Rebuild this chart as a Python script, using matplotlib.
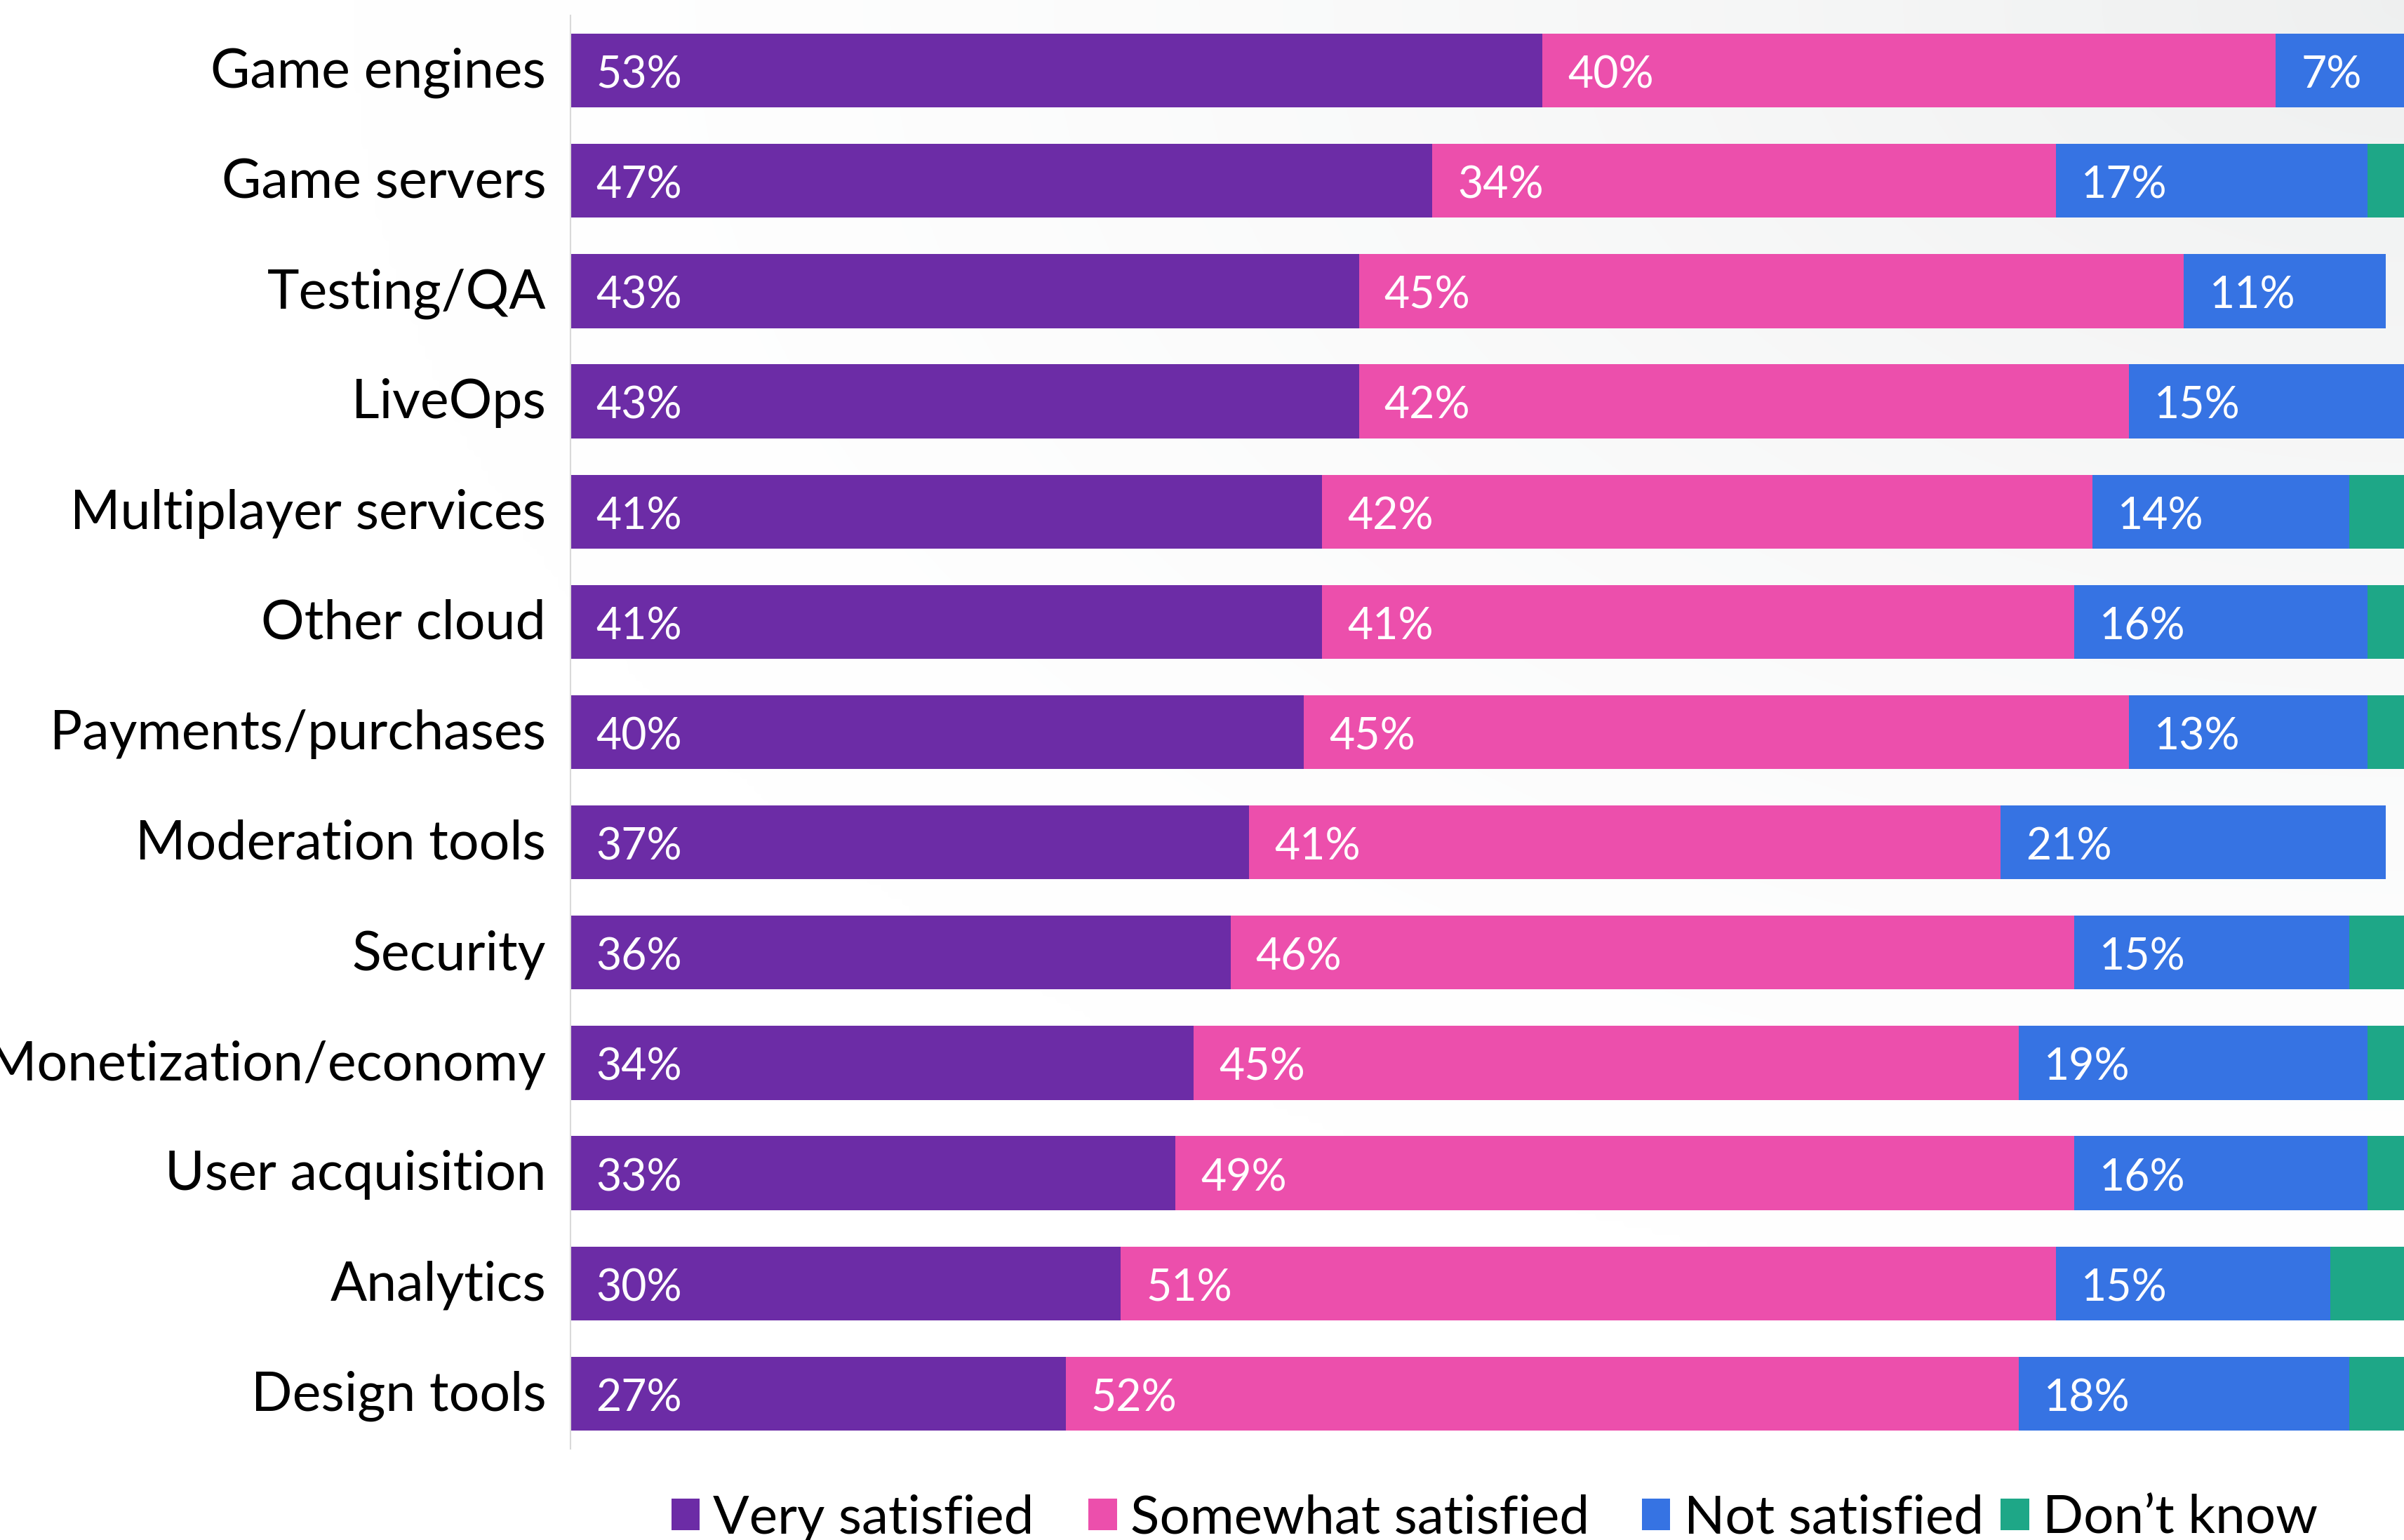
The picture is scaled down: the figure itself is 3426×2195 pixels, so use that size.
import matplotlib
matplotlib.use("Agg")
import matplotlib.pyplot as plt
from matplotlib.patches import Patch
from matplotlib.transforms import ScaledTranslation
import numpy as np

# Satisfaction with tools and services (percent of respondents)
categories = [
    "Game engines", "Game servers", "Testing/QA", "LiveOps",
    "Multiplayer services", "Other cloud", "Payments/purchases",
    "Moderation tools", "Security", "Monetization/economy",
    "User acquisition", "Analytics", "Design tools",
]
very_satisfied = [53, 47, 43, 43, 41, 41, 40, 37, 36, 34, 33, 30, 27]
somewhat_satisfied = [40, 34, 45, 42, 42, 41, 45, 41, 46, 45, 49, 51, 52]
not_satisfied = [7, 17, 11, 15, 14, 16, 13, 21, 15, 19, 16, 15, 18]
dont_know = [0, 2, 0, 0, 3, 2, 2, 0, 3, 2, 2, 4, 3]

series_names = ["Very satisfied", "Somewhat satisfied", "Not satisfied", "Don\u2019t know"]
series_colors = ["#6C2CA6", "#EC4FAC", "#3673E3", "#1EA787"]
labelled_series = [True, True, True, False]
legend_x = [0.2793, 0.4528, 0.6830, 0.8322]

plt.rcParams["font.family"] = ["Lato", "DejaVu Sans"]

W, H = 3426, 2195
fig = plt.figure(figsize=(W / 100, H / 100), dpi=100)
fig.patch.set_facecolor("white")

# soft grey wash in the top-right corner
bg = fig.add_axes([0, 0, 1, 1], zorder=-10)
gh, gw = 220, 343
yy, xx = np.mgrid[0:gh, 0:gw]
dist = np.hypot((gw - xx) / gw, yy / gh)
shade = np.clip(1 - dist / 0.85, 0, 1) ** 1.5
grey = np.array([0.935, 0.94, 0.94])
img = 1 - shade[..., None] * (1 - grey)
bg.imshow(img, aspect="auto", extent=(0, 1, 0, 1), interpolation="bicubic")
bg.set_axis_off()

left_px, right_px, top_px, bottom_px = 813, 3426, 22, 2065
ax = fig.add_axes([left_px / W, 1 - bottom_px / H,
                   (right_px - left_px) / W, (bottom_px - top_px) / H])
ax.set_facecolor("none")

y = np.arange(len(categories))
series = [very_satisfied, somewhat_satisfied, not_satisfied, dont_know]
left = np.zeros(len(categories))
for vals, color, show in zip(series, series_colors, labelled_series):
    vals = np.array(vals, dtype=float)
    ax.barh(y, vals, left=left, color=color, height=0.67, linewidth=0)
    if show:
        for yi, start, v in zip(y, left, vals):
            if v > 0:
                ax.annotate(f"{int(v)}%", xy=(start, yi), xytext=(26, -5),
                            textcoords="offset points", ha="left", va="center",
                            color="white", fontsize=45)
    left += vals

ax.set_xlim(0, 100)
ax.set_ylim(len(categories) - 0.5, -0.5)
ax.set_yticks(y, categories, fontsize=55.5, color="black")
ax.tick_params(axis="y", length=0, pad=25)
lift = ScaledTranslation(0, 3 / 72, fig.dpi_scale_trans)
for lbl in ax.get_yticklabels():
    lbl.set_transform(lbl.get_transform() + lift)
ax.set_xticks([])
for side in ("top", "right", "bottom"):
    ax.spines[side].set_visible(False)
ax.spines["left"].set_color("#d9d9d9")
ax.spines["left"].set_linewidth(1.5)

# one legend entry per series, laid out along the bottom edge
for name, color, lx in zip(series_names, series_colors, legend_x):
    fig.legend([Patch(facecolor=color, edgecolor="none")], [name],
               loc="center left", bbox_to_anchor=(lx, 0.014), frameon=False,
               fontsize=55, handlelength=0.53, handleheight=0.53,
               handletextpad=0.25, borderpad=0, borderaxespad=0)

fig.savefig("out.png", dpi=100)
